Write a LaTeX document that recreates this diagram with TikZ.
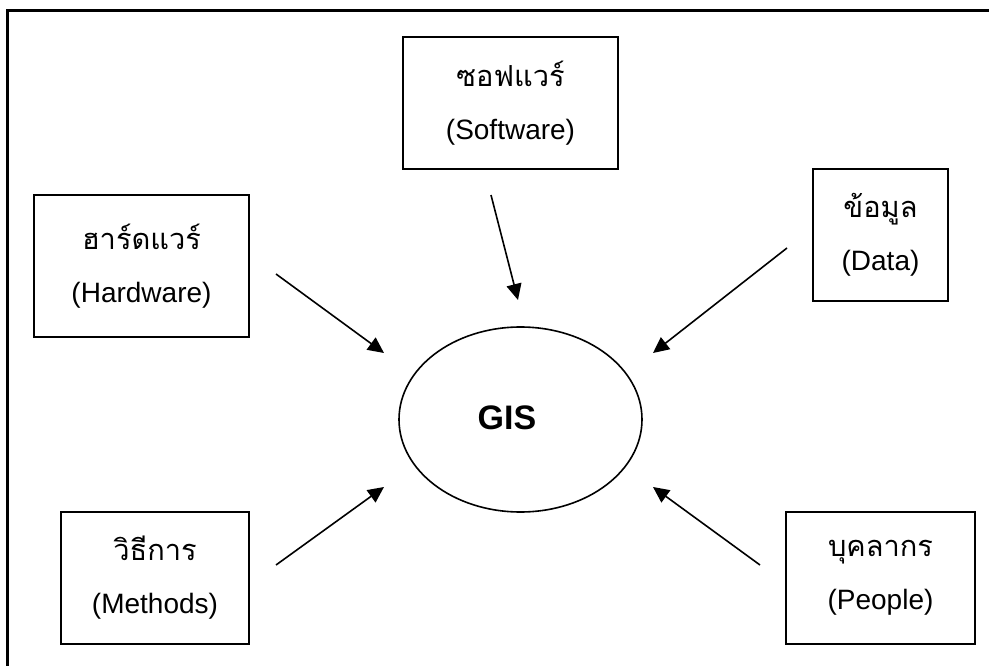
\documentclass[tikz,border=0pt]{standalone}
\usepackage{fontspec}
\setmainfont{Liberation Sans}
\newfontfamily\thaifont[Script=Thai]{Loma}
\usetikzlibrary{arrows.meta,shapes.geometric}
\begin{document}
\begin{tikzpicture}[x=1pt,y=-1pt,
  box/.style={draw,line width=1.8pt,rectangle,inner sep=0pt,align=center,
    font=\fontsize{28}{53}\selectfont},
  conn/.style={line width=1.6pt,-{Triangle[length=16pt,width=15pt]}},
  frame/.style={line width=2.2pt}]
\useasboundingbox (0,0) rectangle (989,666);
\draw[frame] (7.5,666) -- (7.5,10.5) -- (989,10.5);
\node[box,minimum width=215pt,minimum height=142pt] (hw) at (141.5,266) {{\thaifont\fontsize{29}{53}\selectfont ฮาร์ดแวร์}\\(Hardware)};
\node[box,minimum width=215pt,minimum height=132pt] (sw) at (510.5,103) {{\thaifont\fontsize{29}{53}\selectfont ซอฟแวร์}\\(Software)};
\node[box,minimum width=135pt,minimum height=132pt] (data) at (880.5,235) {{\thaifont\fontsize{29}{53}\selectfont ข้อมูล}\\(Data)};
\node[box,minimum width=188pt,minimum height=132pt] (meth) at (155,578) {{\thaifont\fontsize{29}{53}\selectfont วิธีการ}\\(Methods)};
\node[box,minimum width=189pt,minimum height=132pt] (ppl) at (880.5,578) {{\thaifont\fontsize{29}{53}\selectfont บุคลากร}\\(People)};
\node[draw,ellipse,line width=1.6pt,minimum width=243pt,minimum height=185pt,inner sep=0pt] (gis) at (520.5,419.5) {};
\node[font=\fontsize{34}{40}\selectfont\bfseries] (gist) at (507,418) {GIS};
\coordinate (swa) at (491,195);
\coordinate (swb) at (518,300);
\coordinate (hwa) at (276,274);
\coordinate (hwb) at (384,353);
\coordinate (da) at (787,248);
\coordinate (db) at (653,353);
\coordinate (ma) at (276,565);
\coordinate (mb) at (384,487);
\coordinate (pa) at (760,565);
\coordinate (pb) at (653,487);
\draw[conn] (swa) -- (swb);
\draw[conn] (hwa) -- (hwb);
\draw[conn] (da) -- (db);
\draw[conn] (ma) -- (mb);
\draw[conn] (pa) -- (pb);
\end{tikzpicture}
\end{document}
